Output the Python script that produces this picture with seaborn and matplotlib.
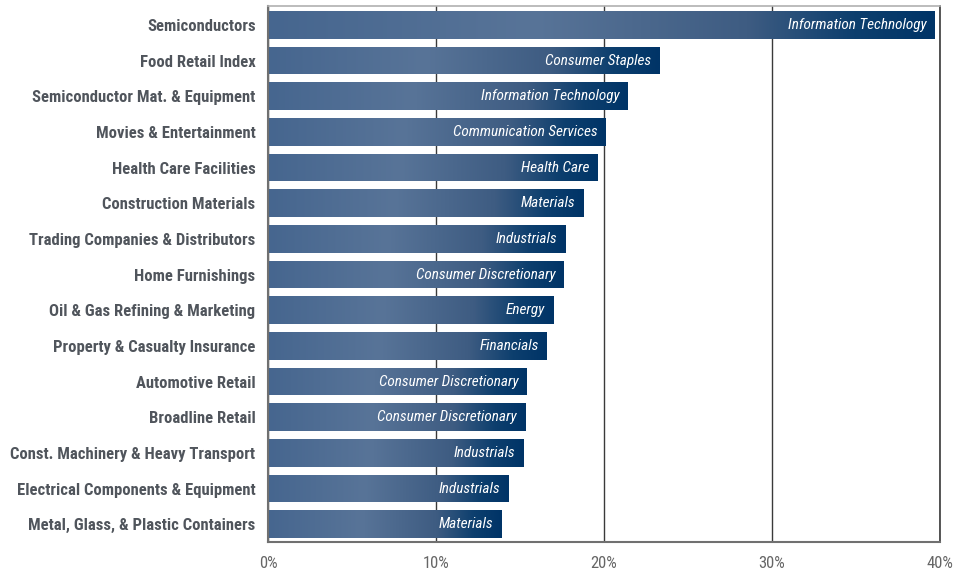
import numpy as np
import pandas as pd
import matplotlib
matplotlib.use("Agg")
import matplotlib.pyplot as plt
from matplotlib import font_manager
from matplotlib.colors import LinearSegmentedColormap
import seaborn as sns

industries = [
    "Semiconductors", "Food Retail Index", "Semiconductor Mat. & Equipment",
    "Movies & Entertainment", "Health Care Facilities", "Construction Materials",
    "Trading Companies & Distributors", "Home Furnishings",
    "Oil & Gas Refining & Marketing", "Property & Casualty Insurance",
    "Automotive Retail", "Broadline Retail", "Const. Machinery & Heavy Transport",
    "Electrical Components & Equipment", "Metal, Glass, & Plastic Containers",
]
values = [39.7, 23.3, 21.4, 20.1, 19.6, 18.8, 17.7, 17.6, 17.0, 16.6,
          15.4, 15.3, 15.2, 14.3, 13.9]
sectors = [
    "Information Technology", "Consumer Staples", "Information Technology",
    "Communication Services", "Health Care", "Materials", "Industrials",
    "Consumer Discretionary", "Energy", "Financials", "Consumer Discretionary",
    "Consumer Discretionary", "Industrials", "Industrials", "Materials",
]
xticks = [0, 10, 20, 30, 40]
xtick_labels = ["0%", "10%", "20%", "30%", "40%"]

sns.set_theme(style="white")
avail = {f.name for f in font_manager.fontManager.ttflist}
fam = "DejaVu Sans"
for cand in ["Roboto Condensed", "Liberation Sans Narrow", "Open Sans Condensed", "Liberation Sans"]:
    if cand in avail:
        fam = cand
        break
plt.rcParams["font.family"] = [fam, "DejaVu Sans"]

df = pd.DataFrame({"industry": industries, "value": values, "sector": sectors})

fig = plt.figure(figsize=(9.65, 5.75), dpi=100)
ax = fig.add_axes([268 / 965, 1 - 542 / 575, (940 - 268) / 965, (542 - 6) / 575])

sns.barplot(data=df, x="value", y="industry", orient="h", ax=ax,
            color="#46658f", width=0.78, saturation=1, zorder=2)

ax.set_xlabel("")
ax.set_ylabel("")
ax.set_xticks(xticks)
ax.set_xticklabels(xtick_labels)

cmap = LinearSegmentedColormap.from_list(
    "bar", [(0.0, "#46668f"), (0.4, "#587498"), (0.72, "#3e5c82"),
            (0.88, "#0d3f6e"), (1.0, "#003467")])
grad = np.linspace(0, 1, 256).reshape(1, -1)

for patch, sec in zip(ax.patches, df["sector"]):
    x0, y0 = patch.get_x(), patch.get_y()
    w, h = patch.get_width(), patch.get_height()
    im = ax.imshow(grad, extent=[x0, x0 + w, y0 + h, y0], cmap=cmap,
                   aspect="auto", zorder=2, interpolation="bilinear")
    im.set_clip_path(patch)
    patch.set_facecolor("none")
    patch.set_edgecolor("none")
    ax.annotate(sec, xy=(x0 + w, y0 + h / 2), xytext=(-6, 0),
                textcoords="offset points", ha="right", va="center",
                color="white", fontsize=11, fontstyle="italic", zorder=3)

ax.set_xlim(0, 40)
ax.set_ylim(14.5, -0.53)

ax.set_axisbelow(True)
ax.grid(axis="x", color="#3a3a3a", linewidth=1.0, zorder=0)
ax.grid(axis="y", visible=False)

for side in ["left", "bottom"]:
    ax.spines[side].set_color("#707070")
    ax.spines[side].set_linewidth(1.5)
ax.spines["top"].set_color("#b0b0b0")
ax.spines["top"].set_linewidth(1.2)
ax.spines["right"].set_color("#3a3a3a")
ax.spines["right"].set_linewidth(1.2)
for s in ax.spines.values():
    s.set_visible(True)

ax.tick_params(axis="y", length=0, pad=9, labelsize=12, labelcolor="#50555c")
ax.tick_params(axis="x", length=0, pad=10, labelsize=12, labelcolor="#666666")
for lab in ax.get_yticklabels():
    lab.set_fontweight("bold")

fig.savefig("out.png", dpi=100)
